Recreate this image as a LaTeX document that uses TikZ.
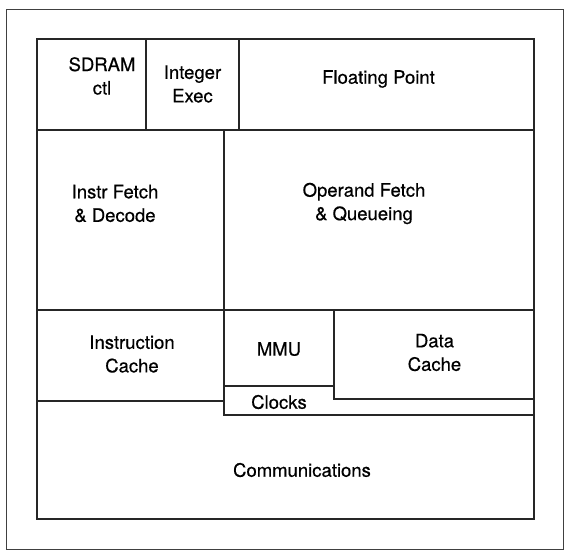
\documentclass[tikz,border=0pt]{standalone}
\usepackage{fontspec}
\setmainfont{TeX Gyre Heros}
\newfontfamily\chipfont{TeX Gyre Heros}[FakeBold=0.5]
\begin{document}
\begin{tikzpicture}[x=1pt,y=-1pt,
  unit/.style={draw=black!85, line width=1.2pt, fill=white, rectangle,
    inner sep=0pt, outer sep=0pt, anchor=north west},
  lbl/.style={align=center, inner sep=0pt, text=black,
    font=\chipfont\fontsize{18.5}{23.5}\selectfont}]
  \useasboundingbox (0,0) rectangle (565,551);
  % outer frame
  \node[unit, draw=black!75, line width=0.9pt, minimum width=557pt, minimum height=540pt] (frame) at (6,9) {};
  % bottom band, then the clocks strip laid over its upper right part
  \node[unit, minimum width=497pt, minimum height=118pt] (comm) at (37,401) {};
  \node[unit, minimum width=310pt, minimum height=29pt] (clk) at (224,386) {};
  % third row
  \node[unit, minimum width=187pt, minimum height=91pt] (icache) at (37,310) {};
  \node[unit, minimum width=110pt, minimum height=76pt] (mmu) at (224,310) {};
  \node[unit, minimum width=200pt, minimum height=89pt] (dcache) at (334,310) {};
  % second row
  \node[unit, minimum width=187pt, minimum height=180pt] (ifetch) at (37,130) {};
  \node[unit, minimum width=310pt, minimum height=180pt] (ofetch) at (224,130) {};
  % top row
  \node[unit, minimum width=109pt, minimum height=91pt] (sdram) at (37,39) {};
  \node[unit, minimum width=93pt, minimum height=91pt] (intex) at (146,39) {};
  \node[unit, minimum width=295pt, minimum height=91pt] (fpu) at (239,39) {};
  % labels
  \node[lbl] (tsdram) at (102,76) {SDRAM\\ctl};
  \node[lbl] (tintex) at (192.5,84) {Integer\\Exec};
  \node[lbl] (tfpu) at (378.5,79) {Floating Point};
  \node[lbl] (tifetch) at (115,203.5) {Instr Fetch\\\&~Decode};
  \node[lbl] (tofetch) at (364,203.5) {Operand Fetch\\\&~Queueing};
  \node[lbl] (ticache) at (132,354) {Instruction\\Cache};
  \node[lbl] (tmmu) at (279,349) {MMU};
  \node[lbl] (tdcache) at (434.5,352.5) {Data\\Cache};
  \node[lbl] (tclk) at (279,402) {Clocks};
  \node[lbl] (tcomm) at (302,470) {Communications};
\end{tikzpicture}
\end{document}
